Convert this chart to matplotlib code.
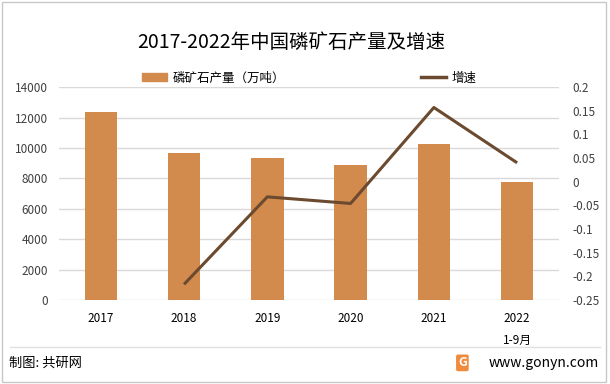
import matplotlib
matplotlib.use("Agg")
import matplotlib.pyplot as plt
from matplotlib.lines import Line2D
from matplotlib.patches import Rectangle

plt.rcParams['font.family'] = ['Noto Sans CJK SC', 'DejaVu Sans']

categories = ["2017", "2018", "2019", "2020", "2021", "2022\n1-9月"]
production = [12360, 9660, 9330, 8850, 10280, 7780]
growth_years = ["2018", "2019", "2020", "2021", "2022\n1-9月"]
growth = [-0.217, -0.032, -0.046, 0.157, 0.040]
left_ticks = [0, 2000, 4000, 6000, 8000, 10000, 12000, 14000]
right_ticks = [-0.25, -0.2, -0.15, -0.1, -0.05, 0, 0.05, 0.1, 0.15, 0.2]
right_labels = ["-0.25", "-0.2", "-0.15", "-0.1", "-0.05", "0", "0.05", "0.1", "0.15", "0.2"]

bar_color = "#D38B4D"
line_color = "#6B4A2F"
grid_color = "#D9D9D9"
text_color = "#404040"

fig = plt.figure(figsize=(6.10, 3.84), dpi=100)
ax = fig.add_axes([0.097, 0.219, 0.819, 0.554])
x = list(range(len(categories)))
ax.bar(x, production, width=0.39, color=bar_color, zorder=2)
ax.set_ylim(0, 14000)
ax.set_xlim(-0.5, len(categories) - 0.5)
ax.set_yticks(left_ticks)
ax.set_yticklabels([str(v) for v in left_ticks])
ax.grid(axis='y', color=grid_color, linewidth=1, zorder=0)
ax.set_xticks(x)
ax.set_xticklabels(categories, fontsize=8.5, color="#000000", linespacing=1.9)
for s in ax.spines.values():
    s.set_visible(False)
ax.tick_params(axis='both', length=0)
ax.tick_params(axis='y', labelsize=8.5, labelcolor=text_color, pad=8)
ax.tick_params(axis='x', pad=9)

ax2 = ax.twinx()
gx = [categories.index(c) for c in growth_years]
ax2.plot(gx, growth, color=line_color, linewidth=2.2, zorder=3, solid_capstyle='butt')
ax2.set_ylim(-0.25, 0.2)
ax2.set_yticks(right_ticks)
ax2.set_yticklabels(right_labels)
for s in ax2.spines.values():
    s.set_visible(False)
ax2.tick_params(axis='y', length=0, labelsize=8.5, labelcolor=text_color, pad=10)

fig.text(0.477, 0.89, "2017-2022年中国磷矿石产量及增速", ha='center', va='center',
         fontsize=14, color="#000000")

handles = [Rectangle((0, 0), 1, 1, color=bar_color),
           Line2D([0], [0], color=line_color, linewidth=2.5)]
fig.legend(handles, ["磷矿石产量（万吨）", "增速"], loc='center',
           bbox_to_anchor=(0.507, 0.797), ncol=2, frameon=False, fontsize=9,
           handlelength=2.0, handleheight=0.6, columnspacing=10.8, handletextpad=0.5)

fig.add_artist(Line2D([0.016, 0.984], [0.096, 0.096], color="#E0E0E0", linewidth=1,
                      transform=fig.transFigure))
fig.add_artist(Rectangle((0.004, 0.006), 0.99, 0.988, fill=False, edgecolor="#C8C8C8",
                         linewidth=1, transform=fig.transFigure))
fig.text(0.014, 0.055, "制图: 共研网", ha='left', va='center', fontsize=9.5, color="#000000")
fig.text(0.982, 0.055, "www.gonyn.com", ha='right', va='center', fontsize=10, color="#000000")
fig.text(0.758, 0.055, "G", ha='center', va='center', fontsize=9, color="white",
         fontweight='bold',
         bbox=dict(boxstyle='round,pad=0.15', facecolor="#F08A3C", edgecolor='none'))

fig.savefig("out.png", dpi=100)
